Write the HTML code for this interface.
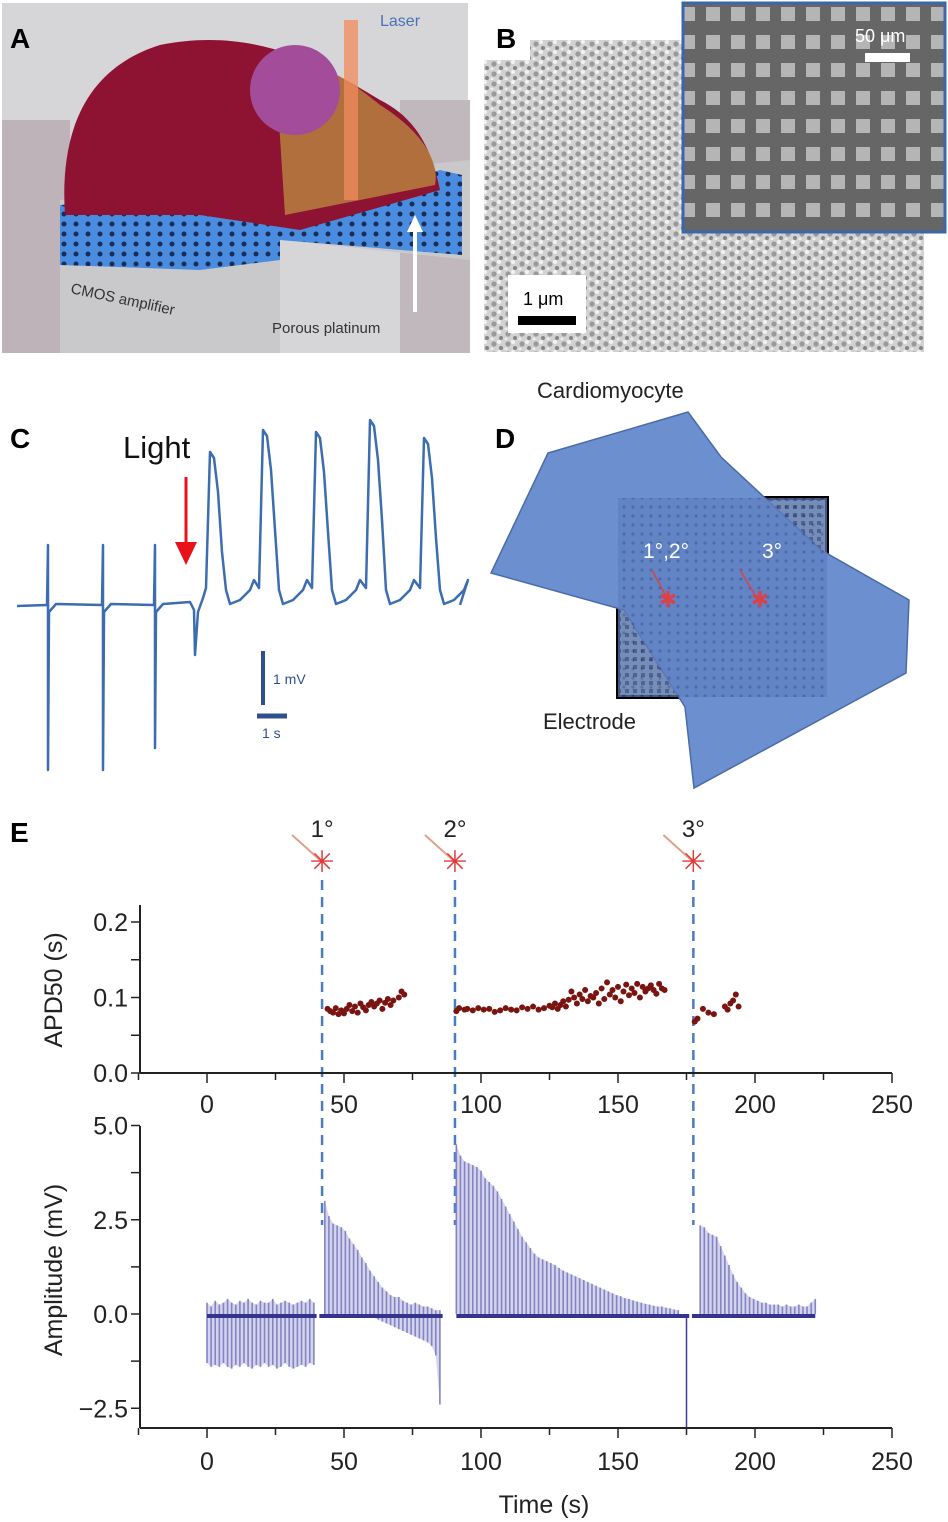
<!DOCTYPE html>
<html><head><meta charset="utf-8"><style>
html,body{margin:0;padding:0;background:#fff;width:948px;height:1522px;overflow:hidden}
svg{display:block;font-family:"Liberation Sans",Arial,sans-serif}
</style></head><body>
<svg id="fig" width="948" height="1522" viewBox="0 0 948 1522">
<defs>
<pattern id="sem" width="14" height="10" patternUnits="userSpaceOnUse"><rect width="14" height="10" fill="#d2d2d2"/><circle cx="4" cy="4" r="2.6" fill="#9a9a9a"/><circle cx="11" cy="8" r="2" fill="#858585"/><circle cx="9" cy="2" r="2" fill="#f2f2f2"/><circle cx="2" cy="9" r="1.5" fill="#eee"/></pattern>
<pattern id="grid" width="25" height="28" patternUnits="userSpaceOnUse"><rect width="25" height="28" fill="#666"/><rect x="6" y="7" width="14" height="14" fill="#b5b5b5"/></pattern>
<pattern id="elec" width="8" height="8" patternUnits="userSpaceOnUse"><rect width="8" height="8" fill="#aaa"/><rect x="1" y="1" width="4" height="4" fill="#222"/></pattern>
<pattern id="dots" width="9" height="9" patternUnits="userSpaceOnUse"><rect width="9" height="9" fill="#5f7fbf"/><circle cx="3" cy="3" r="1.6" fill="#3f5c9a"/></pattern>
<pattern id="porous" width="12" height="10" patternUnits="userSpaceOnUse"><rect width="12" height="10" fill="#4a8de0"/><circle cx="4" cy="4" r="2.5" fill="#1b2d55"/></pattern>
</defs>

<!-- Panel A -->
<g>
<rect x="2" y="3" width="466" height="350" fill="#d6d6d8"/>
<polygon points="2,120 70,120 70,353 2,353" fill="#bdb3b8"/>
<polygon points="400,100 470,100 470,353 400,353" fill="#c0b8bc"/>
<polygon points="60,200 470,160 470,260 280,240 280,353 60,353" fill="#c9c9cc"/>
<polygon points="60,205 200,195 280,225 440,170 462,175 462,255 280,240 280,260 200,270 60,265" fill="url(#porous)"/>
<path d="M65,215 C60,140 80,70 160,45 C260,25 330,70 380,100 C410,115 430,140 440,190 L300,230 L200,215 Z" fill="#8e1232"/>
<path d="M275,60 C320,60 350,80 380,105 C420,130 440,160 435,185 L285,215 Z" fill="#b57a3e" opacity="0.9"/>
<ellipse cx="295" cy="90" rx="45" ry="45" fill="#a24c9a"/>
<rect x="344" y="20" width="14" height="180" fill="#f28a5e" opacity="0.75"/>
<text x="380" y="26" font-size="16" fill="#4a72b8">Laser</text>
<text x="70" y="293" font-size="15" fill="#333" transform="rotate(12 70 293)">CMOS amplifier</text>
<text x="272" y="333" font-size="15" fill="#333">Porous platinum</text>
<line x1="415" y1="312" x2="415" y2="228" stroke="#fff" stroke-width="4"/>
<polygon points="407,232 415,215 423,232" fill="#fff"/>
<text x="10" y="48" font-size="28" font-weight="bold">A</text>
</g>

<!-- Panel B -->
<g>
<polygon points="484,60 530,60 530,40 683,40 683,3 924,3 924,352 484,352" fill="url(#sem)"/>
<rect x="683" y="3" width="262" height="229" fill="url(#grid)" stroke="#3a67a8" stroke-width="3"/>
<text x="855" y="42" font-size="18" fill="#fff">50 μm</text>
<rect x="865" y="53" width="45" height="9" fill="#fff"/>
<rect x="508" y="275" width="78" height="58" fill="#fff"/>
<text x="523" y="305" font-size="18" fill="#000">1 μm</text>
<rect x="518" y="316" width="58" height="9" fill="#000"/>
<text x="496" y="48" font-size="28" font-weight="bold">B</text>
</g>

<!-- Panel C -->
<g>
<text x="10" y="448" font-size="28" font-weight="bold">C</text>
<text x="123" y="458" font-size="31" fill="#111">Light</text>
<line x1="186" y1="477" x2="186" y2="545" stroke="#e8121b" stroke-width="3"/>
<polygon points="175,542 197,542 186,565" fill="#e8121b"/>
<path id="ctrace" fill="none" stroke="#3c6db0" stroke-width="2.5" stroke-linejoin="round"/>
<line x1="263" y1="651" x2="263" y2="705" stroke="#2f4f8f" stroke-width="4"/>
<text x="273" y="684" font-size="14" fill="#2f4f8f">1 mV</text>
<line x1="257" y1="716" x2="287" y2="716" stroke="#2f4f8f" stroke-width="5"/>
<text x="262" y="738" font-size="14" fill="#2f4f8f">1 s</text>
</g>

<!-- Panel D -->
<g>
<text x="495" y="448" font-size="28" font-weight="bold">D</text>
<text x="537" y="398" font-size="22" fill="#222">Cardiomyocyte</text>
<rect x="618" y="498" width="209" height="199" fill="url(#elec)" stroke="#000" stroke-width="4"/>
<polygon points="688,412 721,457 821,550 909,600 906,673 694,788 685,707 624,610 491,573 548,453" fill="#6c8fcf" stroke="#4a6aa8" stroke-width="1.5"/>
<rect x="618" y="498" width="209" height="199" fill="url(#dots)" opacity="0.7"/>
<text x="643" y="558" font-size="21" fill="#fff">1°,2°</text>
<text x="762" y="558" font-size="21" fill="#fff">3°</text>
<line x1="652" y1="570" x2="668" y2="600" stroke="#d9424a" stroke-width="1.5"/>
<line x1="740" y1="570" x2="758" y2="600" stroke="#d9424a" stroke-width="1.5"/>
<text x="668" y="607" font-size="22" fill="#d9424a" text-anchor="middle">✱</text>
<text x="760" y="607" font-size="22" fill="#d9424a" text-anchor="middle">✱</text>
<text x="543" y="729" font-size="22" fill="#222">Electrode</text>
</g>

<!-- Panel E -->
<g>
<text x="10" y="842" font-size="28" font-weight="bold">E</text>
<g id="stims"></g>
<g id="apd"></g>
<g id="amp"></g>
</g>
</svg>
<script>
const NS='http://www.w3.org/2000/svg';
function mk(tag,attrs,parent){const e=document.createElementNS(NS,tag);for(const k in attrs)e.setAttribute(k,attrs[k]);parent.appendChild(e);return e;}

// ---- Panel C data ----
const cSpikeTimes=[48,103,155];
const cSpikeDepth=[770,770,748];
const cApTimes=[210,263,316,370,424];
const cApPeaks=[452,430,432,420,438];
(function(){
  let d='M17,606 ';
  cSpikeTimes.forEach((t,i)=>{d+=`L${t-1},605 L${t},545 L${t},${cSpikeDepth[i]} L${t+1},612 L${t+8},604 `;});
  d+='L190,602 L194,610 L195,655 L198,612 L203,598 ';
  cApTimes.forEach((t,i)=>{const p=cApPeaks[i];d+=`L${t-4},588 L${t},${p} L${t+4},${p+6} L${t+8},${p+40} L${t+12},${p+100} L${t+16},590 L${t+20},604 L${t+30},600 L${t+40},590 L${t+44},580 `;});
  d+='L460,605';
  const el=document.getElementById('ctrace');el.setAttribute('d',d);
})();

// ---- Panel E data ----
const xTicks=[0,50,100,150,200,250];
const apdTicks=[0.0,0.1,0.2];
const ampTicks=[-2.5,0.0,2.5,5.0];
const stimLabels=['1°','2°','3°'];
const stimTimes=[42,90.5,177.5];
const apdTimes=[44,45,46,47,48,49,50,51,52,53,54,55,56,57,58,59,60,61,62,63,64,65,66,67,68,70,71,72,
 91,92,94,95,97,99,101,103,105,107,109,111,113,115,117,119,121,123,125,126,127,128,129,130,131,132,133,134,135,136,137,138,139,140,141,142,143,144,145,146,147,148,149,150,151,152,153,154,155,156,157,158,159,160,161,162,163,164,165,166,167,
 178,179,181,183,185,189,190,191,192,193,194];
const apdVals=[0.085,0.082,0.080,0.086,0.078,0.083,0.079,0.085,0.090,0.082,0.088,0.080,0.092,0.087,0.083,0.090,0.094,0.088,0.092,0.096,0.085,0.093,0.098,0.090,0.096,0.100,0.108,0.104,
 0.082,0.086,0.084,0.085,0.083,0.086,0.084,0.085,0.081,0.083,0.086,0.084,0.083,0.087,0.085,0.088,0.084,0.086,0.089,0.087,0.092,0.085,0.090,0.095,0.088,0.097,0.108,0.100,0.092,0.104,0.098,0.110,0.095,0.102,0.100,0.106,0.092,0.112,0.098,0.120,0.104,0.110,0.100,0.114,0.095,0.108,0.117,0.103,0.112,0.106,0.118,0.100,0.114,0.108,0.112,0.116,0.110,0.105,0.118,0.112,0.110,
 0.068,0.072,0.085,0.080,0.078,0.088,0.084,0.092,0.096,0.104,0.088];
const seg0Times=[0,1.5,3,4.5,6,7.5,9,10.5,12,13.5,15,16.5,18,19.5,21,22.5,24,25.5,27,28.5,30,31.5,33,34.5,36,37.5,39];
const seg0Neg=[-1.3,-1.4,-1.35,-1.4,-1.3,-1.4,-1.45,-1.35,-1.4,-1.3,-1.4,-1.45,-1.35,-1.4,-1.3,-1.4,-1.35,-1.45,-1.4,-1.3,-1.4,-1.45,-1.4,-1.35,-1.4,-1.3,-1.35];
const seg0Pos=[0.3,0.2,0.35,0.25,0.3,0.4,0.3,0.25,0.35,0.3,0.4,0.3,0.25,0.35,0.3,0.3,0.4,0.25,0.3,0.35,0.3,0.25,0.3,0.35,0.3,0.4,0.3];
const seg1Times=[43,44.5,46,47.5,49,50.5,52,53.5,55,56.5,58,59.5,61,62.5,64,65.5,67,68.5,70,71.5,73,74.5,76,77.5,79,80.5,82,83.5,85];
const seg1Pos=[3.0,2.6,2.4,2.35,2.3,2.2,2.0,1.85,1.7,1.5,1.35,1.15,1.0,0.85,0.7,0.6,0.5,0.45,0.45,0.35,0.3,0.25,0.3,0.25,0.2,0.2,0.15,0.1,0.1];
const seg1Neg=[-0.1,-0.1,-0.1,-0.1,-0.1,-0.1,-0.1,-0.1,-0.1,-0.1,-0.1,-0.1,-0.1,-0.15,-0.2,-0.25,-0.3,-0.35,-0.4,-0.45,-0.5,-0.55,-0.6,-0.65,-0.7,-0.75,-0.85,-1.1,-2.4];
const seg2Times=[91,92.5,94,95.5,97,98.5,100,101.5,103,104.5,106,107.5,109,110.5,112,113.5,115,116.5,118,119.5,121,122.5,124,125.5,127,128.5,130,131.5,133,134.5,136,137.5,139,140.5,142,143.5,145,146.5,148,149.5,151,152.5,154,155.5,157,158.5,160,161.5,163,164.5,166,167.5,169,170.5,172];
const seg2Pos=[4.5,4.2,4.05,4.0,3.95,3.9,3.8,3.6,3.5,3.4,3.25,3.05,2.85,2.65,2.45,2.25,2.05,1.9,1.75,1.6,1.5,1.45,1.4,1.35,1.3,1.22,1.15,1.1,1.05,1.0,0.95,0.9,0.85,0.8,0.75,0.7,0.65,0.6,0.55,0.5,0.47,0.42,0.4,0.36,0.33,0.3,0.27,0.25,0.22,0.2,0.2,0.17,0.15,0.12,0.1];
const seg3Times=[180,181.5,183,184.5,186,187.5,189,190.5,192,193.5,195,196.5,198,199.5,201,202.5,204,205.5,207,208.5,210,211.5,213,214.5,216,217.5,219,220.5,222];
const seg3Pos=[2.35,2.3,2.15,2.1,2.05,1.8,1.55,1.3,1.05,0.85,0.7,0.55,0.45,0.4,0.35,0.3,0.3,0.25,0.25,0.25,0.2,0.25,0.2,0.2,0.25,0.2,0.2,0.3,0.4];
const bigNegTime=[175];
const bigNegVal=[-3.0];

const X=t=>207+t*2.74;
const Ya=v=>1073-v*755;
const Yb=v=>1314-v*37.7;
const stims=document.getElementById('stims'),apd=document.getElementById('apd'),amp=document.getElementById('amp');

function xAxis(g,y,labelY){
  const ax=mk('line',{x1:140,y1:y,x2:892,y2:y,stroke:'#222','stroke-width':2},g);
  
  
  for(let t=-25;t<=250;t+=25){mk('line',{x1:X(t),y1:y,x2:X(t),y2:y+(t%50===0?10:7),stroke:'#222','stroke-width':1.5},g);}
  xTicks.forEach(t=>{const tx=mk('text',{x:X(t),y:labelY,'font-size':25,'text-anchor':'middle',fill:'#222'},g);tx.textContent=t;
    
    });
}
mk('line',{x1:140,y1:905,x2:140,y2:1073,stroke:'#222','stroke-width':2},apd);
for(let v=0;v<=0.2001;v+=0.05){mk('line',{x1:131,y1:Ya(v),x2:140,y2:Ya(v),stroke:'#222','stroke-width':1.5},apd);}
apdTicks.forEach(v=>{const t=mk('text',{x:128,y:Ya(v)+9,'font-size':25,'text-anchor':'end',fill:'#222'},apd);t.textContent=v.toFixed(1);
  
  });
xAxis(apd,1073,1113);
const yt1=mk('text',{x:0,y:0,'font-size':25,'text-anchor':'middle',fill:'#222',transform:'translate(62,990) rotate(-90)'},apd);yt1.textContent='APD50 (s)';


apdTimes.forEach((t,i)=>{const c=mk('circle',{cx:X(t),cy:Ya(apdVals[i]),r:3,fill:'#7a1410'},apd);
  
  });

mk('line',{x1:140,y1:1126,x2:140,y2:1428,stroke:'#222','stroke-width':2},amp);
for(let v=-2.5;v<=5.001;v+=1.25){mk('line',{x1:131,y1:Yb(v),x2:140,y2:Yb(v),stroke:'#222','stroke-width':1.5},amp);}
ampTicks.forEach(v=>{const t=mk('text',{x:128,y:Yb(v)+9,'font-size':25,'text-anchor':'end',fill:'#222'},amp);t.textContent=(v<0?'\u2212':'')+Math.abs(v).toFixed(1);
  
  });
xAxis(amp,1428,1470);
const yt2=mk('text',{x:0,y:0,'font-size':25,'text-anchor':'middle',fill:'#222',transform:'translate(62,1270) rotate(-90)'},amp);yt2.textContent='Amplitude (mV)';


const xt=mk('text',{x:544,y:1513,'font-size':25,'text-anchor':'middle',fill:'#222'},amp);xt.textContent='Time (s)';



// envelope fills derived from the spike arrays
function envelope(times,vals){
  let d=`M${X(times[0])},${Yb(0)} `;
  times.forEach((t,i)=>{d+=`L${X(t)},${Yb(vals[i])} `;});
  d+=`L${X(times[times.length-1])},${Yb(0)} Z`;
  const p=mk('path',{d:d,fill:'#d4d4ec'},amp);
  
  
}
envelope(seg0Times,seg0Neg);envelope(seg0Times,seg0Pos);
envelope(seg1Times,seg1Pos);envelope(seg1Times,seg1Neg);
envelope(seg2Times,seg2Pos);envelope(seg3Times,seg3Pos);

function spikes(times,vals){times.forEach((t,i)=>{const l=mk('line',{x1:X(t),y1:Yb(0),x2:X(t),y2:Yb(vals[i]),stroke:'#8484c4','stroke-width':1.6},amp);
  
  });}
spikes(seg0Times,seg0Neg);spikes(seg0Times,seg0Pos);
spikes(seg1Times,seg1Pos);spikes(seg1Times,seg1Neg);
spikes(seg2Times,seg2Pos);spikes(seg3Times,seg3Pos);
bigNegTime.forEach((t,i)=>{const l=mk('line',{x1:X(t),y1:Yb(0),x2:X(t),y2:Yb(bigNegVal[i]),stroke:'#3c3c9a','stroke-width':1.5},amp);
  
  });
[[0,40],[41,86],[91,176],[177,222]].forEach(s=>{const b=mk('line',{x1:X(s[0]),y1:Yb(0)+2,x2:X(s[1]),y2:Yb(0)+2,stroke:'#34348c','stroke-width':4},amp);
  
  });

stimTimes.forEach((t,i)=>{
  const x=X(t);
  const l=mk('line',{x1:x,y1:880,x2:x,y2:1225,stroke:'#4a7cc0','stroke-width':2.5,'stroke-dasharray':'10,7'},stims);
  
  
  mk('line',{x1:x-30,y1:835,x2:x,y2:862,stroke:'#e0a08a','stroke-width':2},stims);
  const s=mk('text',{x:x,y:872,'font-size':30,'text-anchor':'middle',fill:'#e03a3a'},stims);s.textContent='✳';
  
  
  const lb=mk('text',{x:x,y:837,'font-size':24,'text-anchor':'middle',fill:'#222'},stims);lb.textContent=stimLabels[i];
  
  
});
</script>
</body></html>
